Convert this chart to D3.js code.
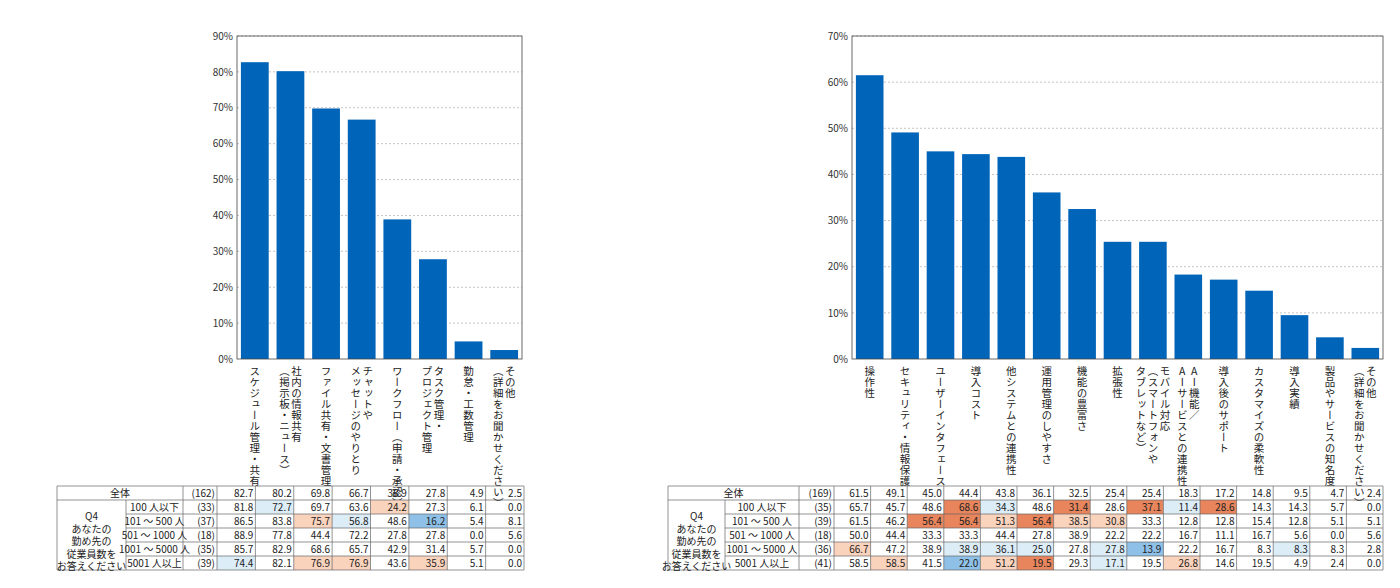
<!DOCTYPE html><html><head><meta charset="utf-8"><script src="https://cdn.jsdelivr.net/npm/d3@7"></script>
<style>body{margin:0;background:#fff;font-family:"Noto Sans CJK JP",sans-serif}</style></head><body><svg id="c" width="1400" height="588"></svg>
<script>
const leftCats=[["スケジュール管理・共有"],["社内の情報共有","（掲示板・ニュース）"],["ファイル共有・文書管理"],["チャットや","メッセージのやりとり"],["ワークフロー（申請・承認）"],["タスク管理・","プロジェクト管理"],["勤怠・工数管理"],["その他","（詳細をお聞かせください）"]];
const leftVals=[82.7,80.2,69.8,66.7,38.9,27.8,4.9,2.5];
const rightCats=[["操作性"],["セキュリティ・情報保護"],["ユーザーインタフェース"],["導入コスト"],["他システムとの連携性"],["運用管理のしやすさ"],["機能の豊富さ"],["拡張性"],["モバイル対応","（スマートフォンや","タブレットなど）"],["AI機能／","AIサービスとの連携性"],["導入後のサポート"],["カスタマイズの柔軟性"],["導入実績"],["製品やサービスの知名度"],["その他","（詳細をお聞かせください）"]];
const rightVals=[61.5,49.1,45.0,44.4,43.8,36.1,32.5,25.4,25.4,18.3,17.2,14.8,9.5,4.7,2.4];
const rowLabels=["100 人以下","101 ～ 500 人","501 ～ 1000 人","1001 ～ 5000 人","5001 人以上"];
const leftN=[162,33,37,18,35,39];
const leftTable=[[81.8,72.7,69.7,63.6,24.2,27.3,6.1,0.0],[86.5,83.8,75.7,56.8,48.6,16.2,5.4,8.1],[88.9,77.8,44.4,72.2,27.8,27.8,0.0,5.6],[85.7,82.9,68.6,65.7,42.9,31.4,5.7,0.0],[74.4,82.1,76.9,76.9,43.6,35.9,5.1,0.0]];
const leftFlag=["01002000","00210300","00000000","00000000","10220200"];
const rightN=[169,35,39,18,36,41];
const rightTable=[[65.7,45.7,48.6,68.6,34.3,48.6,31.4,28.6,37.1,11.4,28.6,14.3,14.3,5.7,0.0],[61.5,46.2,56.4,56.4,51.3,56.4,38.5,30.8,33.3,12.8,12.8,15.4,12.8,5.1,5.1],[50.0,44.4,33.3,33.3,44.4,27.8,38.9,22.2,22.2,16.7,11.1,16.7,5.6,0.0,5.6],[66.7,47.2,38.9,38.9,36.1,25.0,27.8,27.8,13.9,22.2,16.7,8.3,8.3,8.3,2.8],[58.5,58.5,41.5,22.0,51.2,19.5,29.3,17.1,19.5,26.8,14.6,19.5,4.9,2.4,0.0]];
const rightFlag=["000410404140000","004424220000000","000000000000000","200111013000100","020324010200000"];
const leftTicks=[0,10,20,30,40,50,60,70,80,90];
const rightTicks=[0,10,20,30,40,50,60,70];
const fillOf={"0":"none","1":"#dcedf8","2":"#fad3bd","3":"#8fc1e8","4":"#e8855c"};
const svg=d3.select("#c");
function chart(o){
  const g=svg.append("g");
  const x=d3.scaleBand().domain(d3.range(o.vals.length)).range([o.x0,o.x1]).paddingInner(0.22).paddingOuter(0.11);
  const y=d3.scaleLinear().domain([0,o.max]).range([o.y1,o.y0]);
  g.selectAll(".gl").data(o.ticks.slice(1)).join("line").attr("x1",o.x0).attr("x2",o.x1).attr("y1",d=>y(d)).attr("y2",d=>y(d)).attr("stroke","#aaa").attr("stroke-dasharray","2,2").attr("stroke-width",0.7);
  g.selectAll(".b").data(o.vals).join("rect").attr("x",(d,i)=>x(i)).attr("width",x.bandwidth()).attr("y",d=>y(d)).attr("height",d=>o.y1-y(d)).attr("fill","#0064b9");
  g.append("rect").attr("x",o.x0).attr("y",o.y0).attr("width",o.x1-o.x0).attr("height",o.y1-o.y0).attr("fill","none").attr("stroke","#444").attr("stroke-width",0.8);
  const ax=g.append("g").attr("transform",`translate(${o.x0},0)`).call(d3.axisLeft(y).tickValues(o.ticks).tickFormat(d=>d+"%").tickSize(0).tickPadding(4));
  ax.select(".domain").remove();ax.selectAll("text").attr("font-size",10).attr("fill","#333").attr("font-family","Noto Sans CJK JP");
  o.cats.forEach((lines,i)=>{
    const cx=x(i)+x.bandwidth()/2, n=lines.length, lh=12;
    lines.forEach((t,j)=>{
      g.append("text").attr("x",cx+(n-1)*lh/2-j*lh).attr("y",o.y1+7).attr("font-size",10.5).attr("fill","#222")
       .style("writing-mode","vertical-rl").style("text-orientation","upright").style("letter-spacing","0.5px").text(t);
    });
  });
}
chart({vals:leftVals,cats:leftCats,ticks:leftTicks,max:90,x0:237,x1:522,y0:36,y1:359});
chart({vals:rightVals,cats:rightCats,ticks:rightTicks,max:70,x0:852,x1:1383,y0:36,y1:359});
function table(o){
  const g=svg.append("g"), rh=14, y0=486, nc=o.rows[0].length;
  const cw=(o.x1-o.vx)/nc;
  const fs=10;
  const T=(x,y,t,a)=>g.append("text").attr("x",x).attr("y",y).attr("font-size",fs).attr("fill","#222").attr("text-anchor",a||"end").text(t);
  // highlights
  o.rows.forEach((r,ri)=>r.forEach((v,ci)=>{const f=fillOf[o.flag[ri][ci]];if(f!=="none")g.append("rect").attr("x",o.vx+ci*cw).attr("y",y0+(ri+1)*rh).attr("width",cw).attr("height",rh).attr("fill",f);}));
  // grid
  const L=(a,b,c,d)=>g.append("line").attr("x1",a).attr("y1",b).attr("x2",c).attr("y2",d).attr("stroke","#666").attr("stroke-width",0.7);
  L(o.x0,y0,o.x1,y0);L(o.x0,y0+rh,o.x1,y0+rh);L(o.x0,y0+6*rh,o.x1,y0+6*rh);
  for(let i=2;i<6;i++)L(o.gx,y0+i*rh,o.x1,y0+i*rh);
  L(o.x0,y0,o.x0,y0+6*rh);L(o.gx,y0+rh,o.gx,y0+6*rh);L(o.nx,y0,o.nx,y0+6*rh);
  for(let c=0;c<=nc;c++)L(o.vx+c*cw,y0,o.vx+c*cw,y0+6*rh);
  T((o.x0+o.nx)/2,y0+11,"全体","middle");
  ["Q4","あなたの","勤め先の","従業員数を","お答えください"].forEach((t,i)=>T((o.x0+o.gx)/2,y0+rh+20+i*12.5,t,"middle"));
  rowLabels.forEach((t,i)=>T((o.gx+o.nx)/2,y0+(i+1)*rh+11,t,"middle"));
  o.n.forEach((v,i)=>T(o.vx-2,y0+i*rh+11,"("+v+")"));
  o.total.forEach((v,ci)=>T(o.vx+(ci+1)*cw-2,y0+11,v.toFixed(1)));
  o.rows.forEach((r,ri)=>r.forEach((v,ci)=>T(o.vx+(ci+1)*cw-2,y0+(ri+1)*rh+11,v.toFixed(1))));
}
table({x0:57,gx:126,nx:183,vx:217,x1:524,rows:leftTable,flag:leftFlag,n:leftN,total:leftVals});
table({x0:668,gx:725,nx:799,vx:834,x1:1383,rows:rightTable,flag:rightFlag,n:rightN,total:rightVals});
</script></body></html>
